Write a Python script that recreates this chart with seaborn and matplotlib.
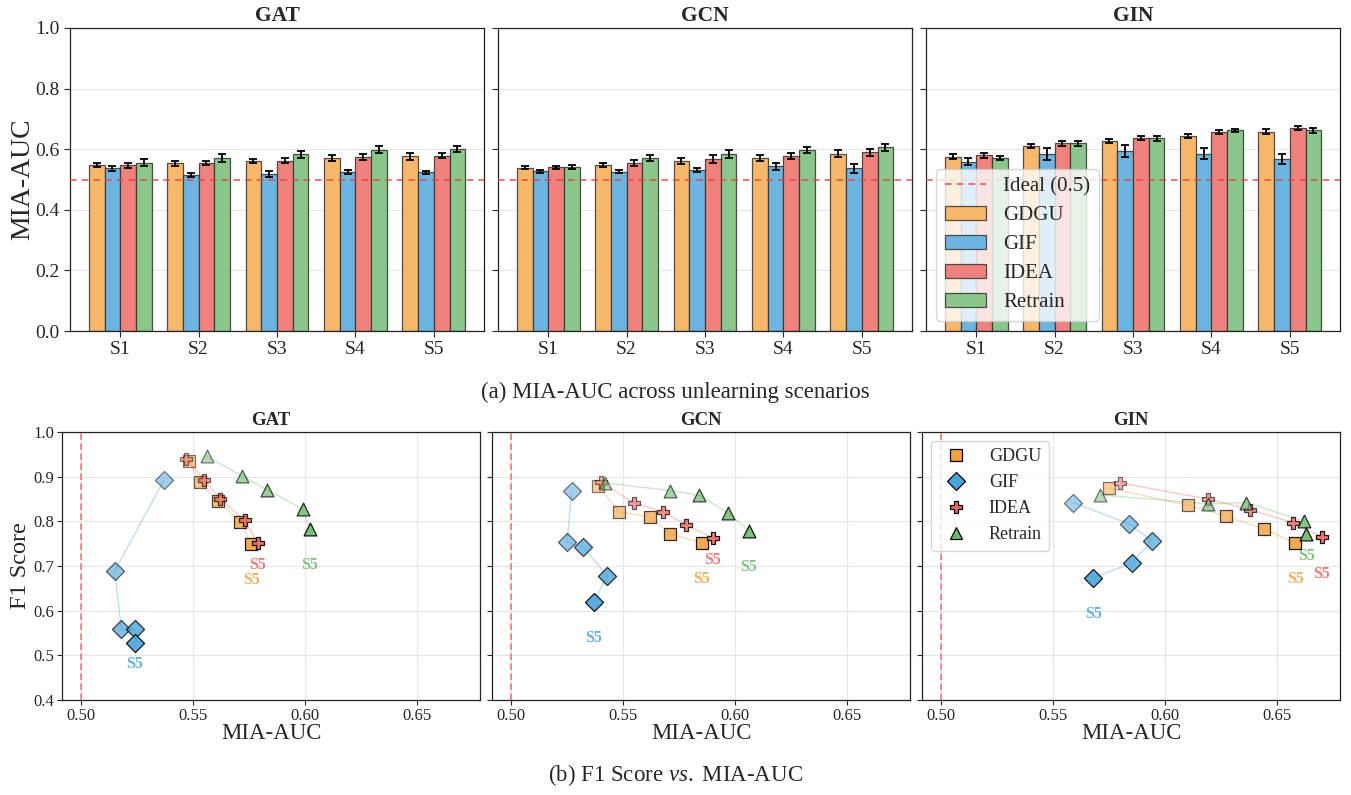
import numpy as np
import pandas as pd
import matplotlib
matplotlib.use("Agg")
import matplotlib.pyplot as plt
import seaborn as sns
from matplotlib.patches import Patch
from matplotlib.lines import Line2D

# ---------------- data ----------------
models = ["GAT", "GCN", "GIN"]
scenarios = ["S1", "S2", "S3", "S4", "S5"]
methods = ["GDGU", "GIF", "IDEA", "Retrain"]

# MIA-AUC means
auc_GAT = {"GDGU": [0.548, 0.553, 0.561, 0.571, 0.576],
           "GIF": [0.537, 0.515, 0.518, 0.524, 0.524],
           "IDEA": [0.547, 0.555, 0.562, 0.573, 0.579],
           "Retrain": [0.556, 0.572, 0.583, 0.599, 0.602]}
auc_GCN = {"GDGU": [0.539, 0.548, 0.562, 0.571, 0.585],
           "GIF": [0.527, 0.525, 0.532, 0.543, 0.537],
           "IDEA": [0.540, 0.555, 0.568, 0.578, 0.590],
           "Retrain": [0.542, 0.571, 0.584, 0.597, 0.606]}
auc_GIN = {"GDGU": [0.575, 0.610, 0.627, 0.644, 0.658],
           "GIF": [0.559, 0.584, 0.594, 0.585, 0.568],
           "IDEA": [0.580, 0.619, 0.638, 0.657, 0.670],
           "Retrain": [0.571, 0.619, 0.636, 0.662, 0.663]}

# MIA-AUC error (std)
err_GAT = {"GDGU": [0.008, 0.008, 0.008, 0.010, 0.011],
           "GIF": [0.008, 0.006, 0.010, 0.007, 0.005],
           "IDEA": [0.008, 0.007, 0.008, 0.010, 0.009],
           "Retrain": [0.011, 0.013, 0.011, 0.013, 0.010]}
err_GCN = {"GDGU": [0.005, 0.008, 0.010, 0.010, 0.011],
           "GIF": [0.005, 0.005, 0.006, 0.011, 0.015],
           "IDEA": [0.005, 0.010, 0.012, 0.011, 0.011],
           "Retrain": [0.006, 0.010, 0.012, 0.010, 0.011]}
err_GIN = {"GDGU": [0.008, 0.006, 0.008, 0.006, 0.008],
           "GIF": [0.012, 0.020, 0.020, 0.018, 0.016],
           "IDEA": [0.008, 0.008, 0.007, 0.006, 0.006],
           "Retrain": [0.007, 0.008, 0.009, 0.004, 0.008]}

# F1 scores
f1_GAT = {"GDGU": [0.936, 0.887, 0.846, 0.799, 0.749],
          "GIF": [0.892, 0.689, 0.558, 0.558, 0.528],
          "IDEA": [0.940, 0.893, 0.850, 0.802, 0.751],
          "Retrain": [0.946, 0.901, 0.871, 0.827, 0.783]}
f1_GCN = {"GDGU": [0.880, 0.821, 0.810, 0.772, 0.752],
          "GIF": [0.867, 0.753, 0.743, 0.678, 0.620],
          "IDEA": [0.888, 0.841, 0.821, 0.792, 0.763],
          "Retrain": [0.886, 0.869, 0.858, 0.818, 0.779]}
f1_GIN = {"GDGU": [0.875, 0.836, 0.812, 0.783, 0.751],
          "GIF": [0.842, 0.794, 0.757, 0.706, 0.674],
          "IDEA": [0.886, 0.850, 0.826, 0.797, 0.765],
          "Retrain": [0.859, 0.839, 0.842, 0.801, 0.772]}

auc_all = {"GAT": auc_GAT, "GCN": auc_GCN, "GIN": auc_GIN}
err_all = {"GAT": err_GAT, "GCN": err_GCN, "GIN": err_GIN}
f1_all = {"GAT": f1_GAT, "GCN": f1_GCN, "GIN": f1_GIN}

rows = []
for m in models:
    for meth in methods:
        for k, s in enumerate(scenarios):
            rows.append({"model": m, "method": meth, "scenario": s,
                         "auc": auc_all[m][meth][k], "err": err_all[m][meth][k],
                         "f1": f1_all[m][meth][k]})
df = pd.DataFrame(rows)

# ---------------- style ----------------
sns.set_theme(style="ticks")
plt.rcParams["font.family"] = ["Liberation Serif", "DejaVu Serif"]
plt.rcParams["mathtext.fontset"] = "custom"
plt.rcParams["mathtext.rm"] = "Liberation Serif"
plt.rcParams["mathtext.it"] = "Liberation Serif:italic"

base_colors = {"GDGU": "#F4A040", "GIF": "#4AA3DB", "IDEA": "#EC6561", "Retrain": "#6CB86C"}
bar_colors = {"GDGU": "#F7B86B", "GIF": "#6BB5E0", "IDEA": "#EF827D", "Retrain": "#8BC68B"}
markers = {"GDGU": "s", "GIF": "D", "IDEA": "P", "Retrain": "^"}
scen_alpha = [0.5, 0.6, 0.7, 0.8, 0.9]

# label offsets (points) for S5 annotations
s5_offset = {"GAT": {"GDGU": -26, "GIF": -15.5, "IDEA": -15.5, "Retrain": -26},
             "GCN": {"GDGU": -26, "GIF": -26, "IDEA": -16, "Retrain": -26},
             "GIN": {"GDGU": -26, "GIF": -26, "IDEA": -27, "Retrain": -16}}

W, H = 1351, 795
fig = plt.figure(figsize=(W / 100, H / 100), dpi=100)

def px_axes(x0, y0, x1, y1):
    return fig.add_axes([x0 / W, 1 - y1 / H, (x1 - x0) / W, (y1 - y0) / H])

top_lefts = [70, 498, 926]
bot_lefts = [62, 492, 922]

# ---------------- top: bar charts ----------------
for i, m in enumerate(models):
    ax = px_axes(top_lefts[i], 28, top_lefts[i] + 414, 331)
    sub = df[df.model == m]
    sns.barplot(data=sub, x="scenario", y="auc", hue="method", order=scenarios,
                hue_order=methods, palette=bar_colors, saturation=1, errorbar=None,
                edgecolor=(0.2, 0.2, 0.2, 0.85), linewidth=0.9, width=0.8,
                legend=False, ax=ax, zorder=2)
    for j, meth in enumerate(methods):
        cont = ax.containers[j]
        xs = [p.get_x() + p.get_width() / 2 for p in cont]
        ys = [p.get_height() for p in cont]
        ax.errorbar(xs, ys, yerr=err_all[m][meth], fmt="none", ecolor="black",
                    elinewidth=1.3, capsize=2.8, capthick=1.3, zorder=3)
    ax.axhline(0.5, color="#e84040", ls=(0, (4, 3)), lw=1.2, alpha=0.85, zorder=4)
    ax.set_ylim(0, 1.0)
    ax.set_yticks(np.arange(0, 1.01, 0.2))
    ax.yaxis.grid(True, color="#e6e6e6", lw=0.8, zorder=0)
    ax.set_axisbelow(True)
    ax.set_title(m, fontsize=15.5, fontweight="bold", pad=5)
    ax.set_xlabel("")
    ax.tick_params(axis="both", labelsize=14, length=4, width=0.8)
    for sp in ax.spines.values():
        sp.set_linewidth(0.9)
        sp.set_color("#222222")
    if i == 0:
        ax.set_ylabel("MIA-AUC", fontsize=20, labelpad=0)
    else:
        ax.set_ylabel("")
        ax.tick_params(axis="y", labelleft=False)
    if i == 2:
        handles = [Line2D([0], [0], color="#e84040", ls=(0, (4, 3)), lw=1.2, alpha=0.85)]
        handles += [Patch(facecolor=bar_colors[k], edgecolor=(0.2, 0.2, 0.2, 0.85), lw=0.9)
                    for k in methods]
        leg = ax.legend(handles, ["Ideal (0.5)"] + methods, loc="lower left",
                        fontsize=15, frameon=True, framealpha=0.8, labelspacing=0.45)
        leg.get_frame().set_edgecolor("#cccccc")

# ---------------- bottom: scatter ----------------
for i, m in enumerate(models):
    ax = px_axes(bot_lefts[i], 432, bot_lefts[i] + 418, 700)
    sub = df[df.model == m]
    ax.axvline(0.5, color="#ef5050", ls=(0, (4, 2)), lw=1.2, alpha=0.75, zorder=1)
    for meth in methods:
        sm = sub[sub.method == meth]
        sns.lineplot(data=sm, x="auc", y="f1", sort=False, estimator=None,
                     color=base_colors[meth], alpha=0.35, lw=1.0, ax=ax, zorder=2)
        for k, s in enumerate(scenarios):
            pt = sm[sm.scenario == s]
            sns.scatterplot(data=pt, x="auc", y="f1", marker=markers[meth], s=85,
                            color=base_colors[meth], alpha=scen_alpha[k],
                            edgecolor="black", linewidth=0.9, ax=ax, zorder=3 + k)
        last = sm[sm.scenario == "S5"].iloc[0]
        ax.annotate("S5", (last.auc, last.f1), xytext=(0, s5_offset[m][meth]),
                    textcoords="offset points", ha="center", va="center",
                    fontsize=11.5, fontweight="bold", color=base_colors[meth],
                    alpha=0.85)
    ax.set_xlim(0.4915, 0.678)
    ax.set_ylim(0.4, 1.0)
    ax.set_xticks([0.50, 0.55, 0.60, 0.65])
    ax.set_xticklabels(["0.50", "0.55", "0.60", "0.65"])
    ax.set_yticks(np.arange(0.4, 1.01, 0.1))
    ax.grid(True, color="#e6e6e6", lw=0.8, zorder=0)
    ax.set_axisbelow(True)
    ax.set_title(m, fontsize=13.5, fontweight="bold", pad=5)
    ax.set_xlabel("MIA-AUC", fontsize=16.5, labelpad=-1)
    ax.tick_params(axis="both", labelsize=12, length=3.5, width=0.8)
    ax.tick_params(axis="x", pad=2.5)
    ax.tick_params(axis="y", pad=2)
    for sp in ax.spines.values():
        sp.set_linewidth(0.9)
        sp.set_color("#222222")
    if i == 0:
        ax.set_ylabel("F1 Score", fontsize=17.5, labelpad=2)
        ax.set_yticklabels([f"{v:.1f}" for v in np.arange(0.4, 1.01, 0.1)])
    else:
        ax.set_ylabel("")
        ax.tick_params(axis="y", labelleft=False)
    if i == 2:
        handles = [Line2D([0], [0], marker=markers[k], ls="none", markersize=9,
                          markerfacecolor=base_colors[k], markeredgecolor="black",
                          markeredgewidth=0.9) for k in methods]
        leg = ax.legend(handles, methods, loc="upper left", fontsize=13,
                        frameon=True, framealpha=0.8)
        leg.get_frame().set_edgecolor("#cccccc")

fig.text(675 / W, 1 - 392 / H, "(a) MIA-AUC across unlearning scenarios",
         ha="center", va="center", fontsize=16.5)
fig.text(675 / W, 1 - 775 / H, r"(b) F1 Score $\mathit{vs.}$ MIA-AUC",
         ha="center", va="center", fontsize=16.5)

fig.savefig("out.png", dpi=100)
